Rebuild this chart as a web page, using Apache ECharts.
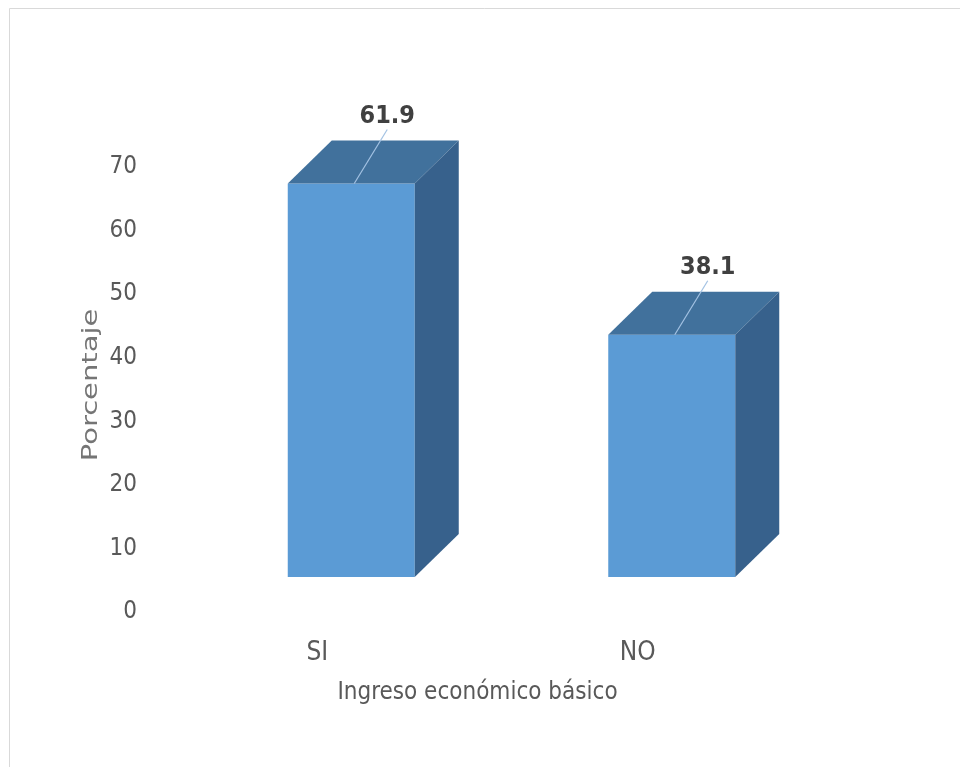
<!DOCTYPE html>
<html>
<head>
<meta charset="utf-8">
<script src="https://cdn.jsdelivr.net/npm/echarts@6/dist/echarts.min.js"></script>
<style>
html,body{margin:0;padding:0;background:#fff;}
#chart{width:960px;height:767px;}
</style>
</head>
<body>
<div id="chart"></div>
<script>
const categories = ['SI', 'NO'];
const values = [61.9, 38.1];
const yTicks = [0, 10, 20, 30, 40, 50, 60, 70];
const xTitle = 'Ingreso económico básico';
const yTitle = 'Porcentaje';

const NARROW = '"Liberation Sans Narrow", "DejaVu Sans Condensed", "Liberation Sans", sans-serif';
const FRONT = '#5b9bd5';
const TOP = '#41719c';
const SIDE = '#37618c';

const chart = echarts.init(document.getElementById('chart'));

function renderItem(params, api) {
  const base = api.coord([api.value(0), 0]);
  const top = api.coord([api.value(0), api.value(1)]);
  const lift = 35, w = 127, dx = 44, dy = 43, shift = 34;
  const fl = base[0] + shift - w / 2;
  const fb = base[1] - lift;
  const ft = top[1] - lift;
  const fr = fl + w;
  const fc = fl + w / 2;
  const lx = fc + 36, ly = ft - dy - 24;
  return {
    type: 'group',
    children: [
      { type: 'rect', shape: { x: fl, y: ft, width: w, height: fb - ft }, style: { fill: FRONT } },
      { type: 'polygon', shape: { points: [[fl, ft], [fr, ft], [fr + dx, ft - dy], [fl + dx, ft - dy]] }, style: { fill: TOP } },
      { type: 'polygon', shape: { points: [[fr, ft], [fr + dx, ft - dy], [fr + dx, fb - dy], [fr, fb]] }, style: { fill: SIDE } },
      { type: 'line', shape: { x1: fc + 3, y1: ft, x2: lx, y2: ly + 13 }, style: { stroke: '#a3c2e3', lineWidth: 1.2 } },
      { type: 'text', x: lx, y: ly, style: { text: String(api.value(1)), fill: '#404040', font: 'bold 25px ' + NARROW, align: 'center', verticalAlign: 'middle' } }
    ]
  };
}

chart.setOption({
  animation: false,
  backgroundColor: '#ffffff',
  grid: { left: 157, right: 162, top: 167, bottom: 155 },
  xAxis: {
    type: 'category',
    data: categories,
    axisLine: { show: false },
    axisTick: { show: false },
    axisLabel: { color: '#595959', fontSize: 26, fontFamily: NARROW, margin: 28 },
    name: xTitle,
    nameLocation: 'middle',
    nameGap: 69,
    nameTextStyle: { color: '#595959', fontSize: 24, fontFamily: NARROW }
  },
  yAxis: {
    type: 'value',
    min: yTicks[0],
    max: yTicks[yTicks.length - 1],
    interval: yTicks[1] - yTicks[0],
    axisLine: { show: false },
    axisTick: { show: false },
    splitLine: { show: false },
    axisLabel: { color: '#595959', fontSize: 24, fontFamily: NARROW, margin: 20 }
  },
  graphic: [
    { type: 'line', shape: { x1: 9.5, y1: 8.5, x2: 960, y2: 8.5 }, style: { stroke: '#d9d9d9', lineWidth: 1 } },
    { type: 'line', shape: { x1: 9.5, y1: 8.5, x2: 9.5, y2: 767 }, style: { stroke: '#d9d9d9', lineWidth: 1 } },
    { type: 'text', x: 92, y: 385, rotation: Math.PI / 2, scaleX: 1.38, style: { text: yTitle, fill: '#757575', font: '21px "DejaVu Sans", sans-serif', align: 'center', verticalAlign: 'middle' } }
  ],
  series: [{
    type: 'custom',
    renderItem: renderItem,
    clip: false,
    encode: { x: 0, y: 1 },
    data: values.map((v, i) => [i, v])
  }]
});
</script>
</body>
</html>
